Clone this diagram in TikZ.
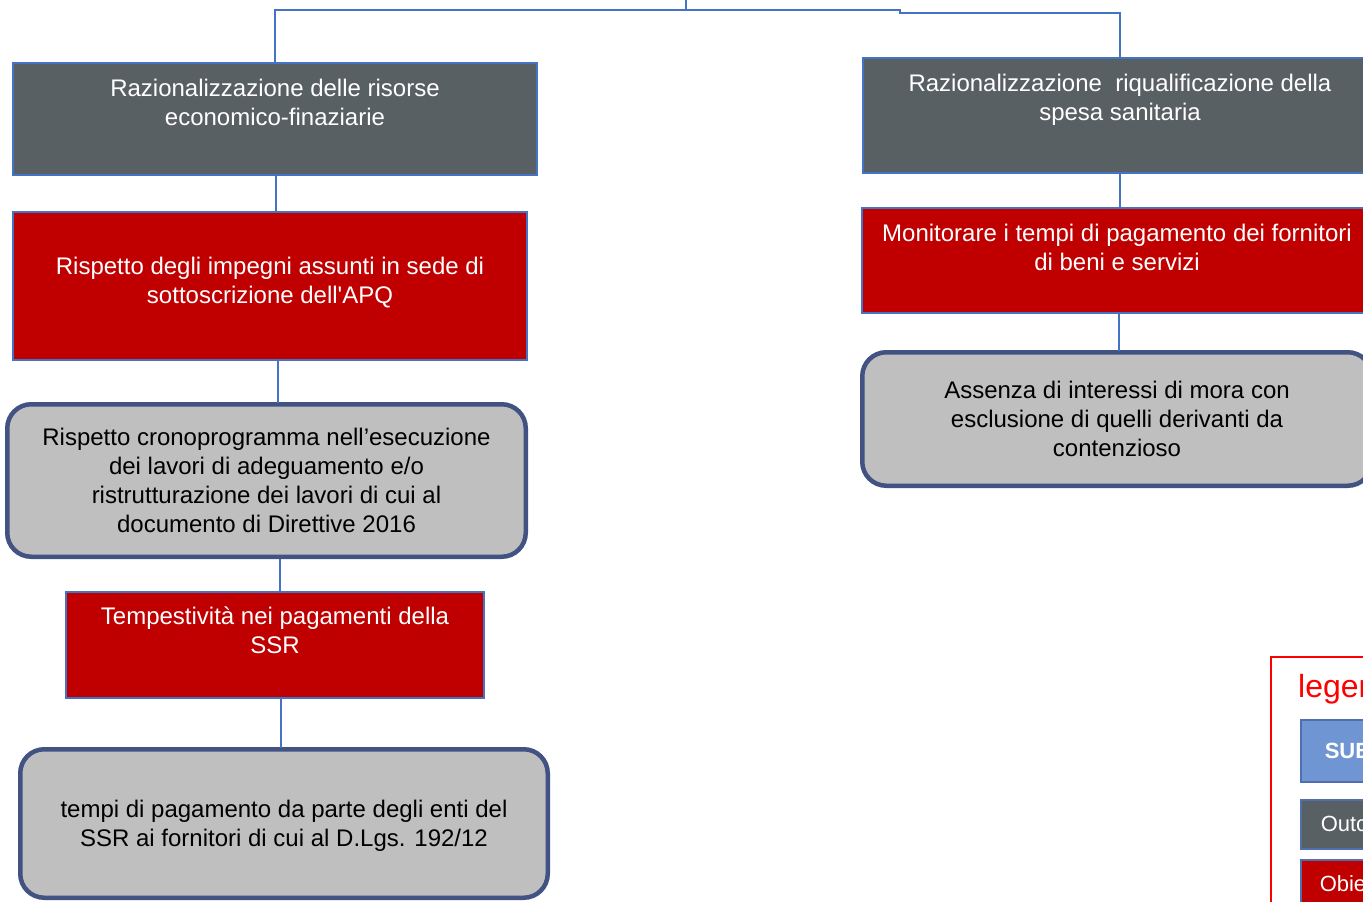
\documentclass[tikz,border=0pt]{standalone}
\usepackage{fontspec}
\setmainfont{Liberation Sans}
\usetikzlibrary{positioning}
\definecolor{outgray}{RGB}{89,96,99}
\definecolor{objred}{RGB}{192,0,0}
\definecolor{indgray}{RGB}{191,191,191}
\definecolor{indblue}{RGB}{66,82,130}
\definecolor{linkblue}{RGB}{68,114,196}
\definecolor{subblue}{RGB}{111,150,211}
\definecolor{subedge}{RGB}{79,111,175}

\begin{document}
\begin{tikzpicture}[x=1pt,y=-1pt,
  outbox/.style={draw=linkblue,line width=1.5pt,fill=outgray,text=white,align=center,inner sep=0pt,font=\fontsize{24}{29}\selectfont},
  objbox/.style={outbox,fill=objred},
  indbox/.style={draw=indblue,line width=4.5pt,fill=indgray,rounded corners=24pt,align=center,inner sep=0pt,text depth=1pt,font=\fontsize{24}{29}\selectfont},
  legbox/.style={draw=subedge,line width=1.5pt,anchor=north west,text=white,text width=170pt,align=left,inner ysep=0pt,font=\fontsize{22}{26}\selectfont},
  link/.style={draw=linkblue,line width=1.5pt}]
\useasboundingbox (0,0) rectangle (1363,902);
\clip (0,0) rectangle (1363,902);

% left column
\node[outbox,minimum width=524pt,minimum height=112pt,text depth=34pt] (a1) at (275,119) {Razionalizzazione delle risorse\\economico-finaziarie};
\node[objbox,minimum width=514pt,minimum height=148pt,text depth=11pt] (a2) at (270,286) {Rispetto degli impegni assunti in sede di\\sottoscrizione dell\textquotesingle APQ};
\node[indbox,minimum width=518.5pt,minimum height=152.5pt] (a3) at (266.5,480.5) {Rispetto cronoprogramma nell’esecuzione\\dei lavori di adeguamento e/o\\ristrutturazione dei lavori di cui al\\documento di Direttive 2016};
\node[objbox,minimum width=418pt,minimum height=106pt,text depth=29pt] (a4) at (275,645) {Tempestività nei pagamenti della\\SSR};
\node[indbox,minimum width=527.5pt,minimum height=148.5pt] (a5) at (284,823.5) {tempi di pagamento da parte degli enti del\\SSR ai fornitori di cui al D.Lgs. 192/12};

% right column
\node[outbox,minimum width=514pt,minimum height=115pt,text depth=37pt] (b1) at (1120,115.5) {Razionalizzazione\ \ riqualificazione della\\spesa sanitaria};
\node[objbox,minimum width=510pt,minimum height=105pt,text depth=27pt] (b2) at (1117,260.5) {Monitorare i tempi di pagamento dei fornitori\\di beni e servizi};
\node[indbox,minimum width=509.5pt,minimum height=133.5pt] (b3) at (1117,419) {Assenza di interessi di mora con\\esclusione di quelli derivanti da\\contenzioso};

% tree lines
\coordinate (root) at (686,0);
\coordinate (fork) at (686,10);
\coordinate (kink) at (900,10);
\draw[link] (root) -- (fork);
\draw[link] (fork) -| (a1.north);
\draw[link] (fork) -- (kink) -- ++(0,3) -| (b1.north);
\draw[link] (a1.south) ++(1,0) -- ++(0,37);
\draw[link] (a1.south |- a2.south) ++(3,0) -- ++(0,42);
\draw[link] (a1.south |- a3.south) ++(5,0) -- ++(0,33);
\draw[link] (a1.south |- a4.south) ++(6,0) -- ++(0,49);
\draw[link] (b1.south) -- (b1.south |- b2.north);
\draw[link] (b2.south) ++(2,0) -- ++(0,37);

% legend
\node[draw=red,line width=1.5pt,anchor=north west,minimum width=220pt,minimum height=300pt] (legend) at (1270,656) {};
\node[anchor=base west,inner sep=0pt,text=red,font=\fontsize{32}{38}\selectfont] (legtitle) at (1298,697) {legenda};
\node[legbox,fill=subblue,minimum height=62pt,inner xsep=24pt,font=\fontsize{22}{26}\selectfont\bfseries] (legsub) at (1300,719) {SUBAREA};
\node[legbox,fill=outgray,minimum height=49pt,inner xsep=20pt] (legout) at (1300,799) {Outcome};
\node[legbox,fill=objred,minimum height=48pt,inner xsep=19pt] (legobj) at (1300,859) {Obiettivo};
\end{tikzpicture}
\end{document}
